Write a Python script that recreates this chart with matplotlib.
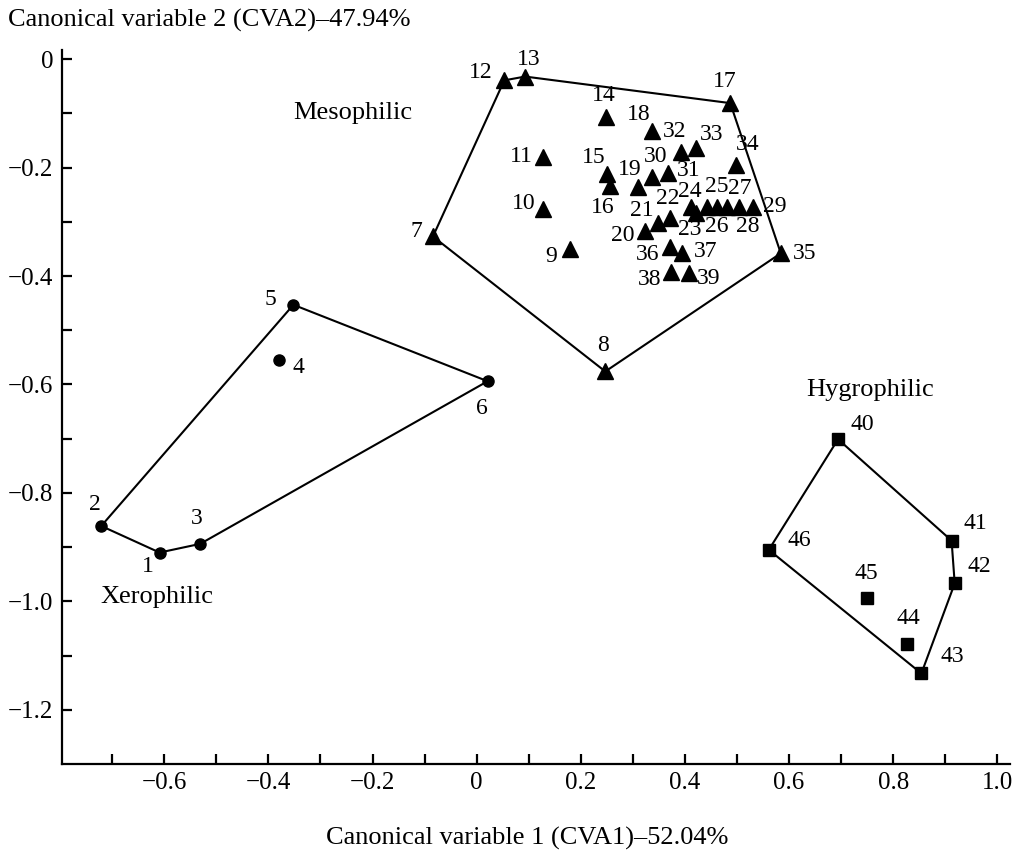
import matplotlib
matplotlib.use("Agg")
import matplotlib.pyplot as plt
from matplotlib.ticker import FixedLocator, FuncFormatter

plt.rcParams['font.family'] = ['Liberation Serif', 'DejaVu Serif']

# Xerophilic (1-6), circles
xero_id = [1, 2, 3, 4, 5, 6]
xero_x = [-0.609, -0.721, -0.531, -0.380, -0.352, 0.021]
xero_y = [-0.910, -0.861, -0.894, -0.555, -0.453, -0.594]
xero_hull = [2, 5, 6, 3, 1, 2]

# Mesophilic (7-39), triangles
meso_id = list(range(7, 40))
meso_x = [-0.084, 0.247, 0.179, 0.128, 0.128, 0.053, 0.093, 0.249, 0.251, 0.256,
          0.487, 0.336, 0.309, 0.323, 0.349, 0.371, 0.421, 0.411, 0.443, 0.462,
          0.480, 0.503, 0.530, 0.336, 0.368, 0.392, 0.421, 0.498, 0.584, 0.371,
          0.395, 0.373, 0.407]
meso_y = [-0.327, -0.576, -0.351, -0.276, -0.181, -0.039, -0.032, -0.107, -0.212, -0.234,
          -0.081, -0.132, -0.235, -0.317, -0.303, -0.292, -0.283, -0.272, -0.272, -0.272,
          -0.272, -0.272, -0.272, -0.218, -0.210, -0.172, -0.163, -0.195, -0.358, -0.347,
          -0.358, -0.392, -0.394]
meso_hull = [12, 13, 17, 35, 8, 7, 12]

# Hygrophilic (40-46), squares
hygro_id = [40, 41, 42, 43, 44, 45, 46]
hygro_x = [0.694, 0.912, 0.918, 0.854, 0.826, 0.750, 0.561]
hygro_y = [-0.701, -0.888, -0.967, -1.133, -1.079, -0.994, -0.905]
hygro_hull = [40, 41, 42, 43, 46, 40]

# label offsets in pixels (dx, dy)
offsets = {
    1: (-12, -14), 2: (-6, 21), 3: (-3, 25), 4: (20, -7), 5: (-23, 5), 6: (-6, -27),
    7: (-17, 5), 8: (-2, 26), 9: (-19, -7), 10: (-20, 5), 11: (-22, 1), 12: (-24, 8),
    13: (4, 17), 14: (-3, 22), 15: (-14, 17), 16: (-7, -21), 17: (-6, 22), 18: (-13, 16),
    19: (-8, 17), 20: (-22, -4), 21: (-17, 13), 22: (-2, 19), 23: (-6, -17), 24: (-1, 15),
    25: (9, 20), 26: (-1, -20), 27: (13, 18), 28: (9, -20), 29: (22, 0), 30: (4, 21),
    31: (20, 3), 32: (-6, 21), 33: (16, 13), 34: (12, 20), 35: (24, 0), 36: (-22, -7),
    37: (23, 2), 38: (-21, -8), 39: (20, -6),
    40: (24, 15), 41: (24, 17), 42: (25, 17), 43: (31, 17), 44: (2, 26), 45: (-1, 25),
    46: (31, 9),
}

fig = plt.figure(figsize=(10.16, 8.56), dpi=100)
ax = fig.add_axes([0.0607, 0.1075, 0.9333, 0.8341])

groups = [
    (xero_id, xero_x, xero_y, xero_hull, 'o', 8),
    (meso_id, meso_x, meso_y, meso_hull, '^', 11),
    (hygro_id, hygro_x, hygro_y, hygro_hull, 's', 8),
]
for ids, xs, ys, hull, mk, ms in groups:
    pos = {i: (x, y) for i, x, y in zip(ids, xs, ys)}
    ax.plot([pos[i][0] for i in hull], [pos[i][1] for i in hull],
            color='black', lw=1.5, zorder=2)
    ax.plot(xs, ys, linestyle='none', marker=mk, ms=ms, color='black', zorder=3)
    for i, x, y in zip(ids, xs, ys):
        ax.annotate(str(i), (x, y), xytext=offsets[i], textcoords='offset pixels',
                    ha='center', va='center', fontsize=17)

ax.text(-0.237, -0.099, 'Mesophilic', ha='center', va='center', fontsize=19)
ax.text(-0.614, -0.992, 'Xerophilic', ha='center', va='center', fontsize=19)
ax.text(0.755, -0.610, 'Hygrophilic', ha='center', va='center', fontsize=19)

ax.set_xlim(-0.797, 1.024)
ax.set_ylim(-1.300, 0.017)
ax.spines['top'].set_visible(False)
ax.spines['right'].set_visible(False)
for s in ('left', 'bottom'):
    ax.spines[s].set_linewidth(1.6)

ax.xaxis.set_major_locator(FixedLocator([-0.6, -0.4, -0.2, 0, 0.2, 0.4, 0.6, 0.8, 1.0]))
ax.xaxis.set_minor_locator(FixedLocator([-0.7, -0.5, -0.3, -0.1, 0.1, 0.3, 0.5, 0.7, 0.9]))
ax.yaxis.set_major_locator(FixedLocator([0, -0.2, -0.4, -0.6, -0.8, -1.0, -1.2]))
ax.yaxis.set_minor_locator(FixedLocator([-0.1, -0.3, -0.5, -0.7, -0.9, -1.1]))

fmt = FuncFormatter(lambda v, p: '0' if abs(v) < 1e-9 else f'{v:.1f}'.replace('-', '\u2212'))
ax.xaxis.set_major_formatter(fmt)
ax.yaxis.set_major_formatter(fmt)
ax.tick_params(which='both', direction='in', length=7, width=1.6, labelsize=18)
ax.tick_params(axis='x', which='both', pad=6)
ax.tick_params(axis='y', which='both', pad=6)

fig.text(8 / 1016, 1 - 20 / 856, 'Canonical variable 2 (CVA2)\u201347.94%',
         ha='left', va='center', fontsize=19)
fig.text(527 / 1016, 1 - 838 / 856, 'Canonical variable 1 (CVA1)\u201352.04%',
         ha='center', va='center', fontsize=19)

fig.savefig('out.png', dpi=100)
